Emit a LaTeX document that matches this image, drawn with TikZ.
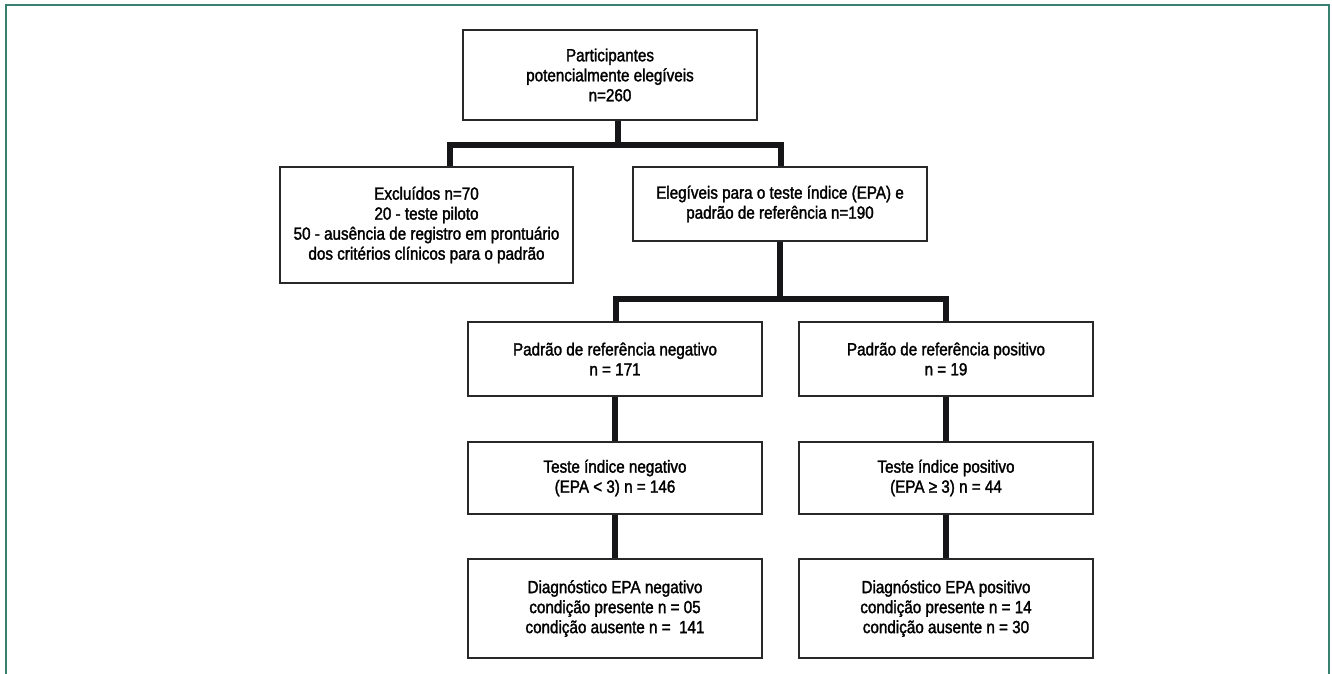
\documentclass[tikz,border=0pt]{standalone}
\usepackage{fontspec}
\setmainfont{Liberation Sans}[FakeStretch=0.865,FakeBold=1.7]
\definecolor{frameteal}{RGB}{56,128,112}
\definecolor{boxline}{RGB}{40,40,40}
\definecolor{connblack}{RGB}{22,22,24}
\begin{document}
\begin{tikzpicture}[x=0.75pt,y=-0.75pt,
  stage/.style={draw=boxline,line width=0.9pt,fill=white,align=center,
    minimum width=294*0.75pt,inner sep=0pt,
    font=\fontsize{13.2pt}{15pt}\selectfont},
  conn/.style={draw=connblack,line width=4.6pt,line join=miter,line cap=butt},
  frameln/.style={draw=frameteal,line width=1.6pt}]
\useasboundingbox (0,0) rectangle (1332,674);
% frame
\draw[frameln] (6,674) -- (6,5) -- (1329,5) -- (1329,674);
% nodes
\node[stage,minimum height=90*0.75pt] (top) at (610,75)
  {Participantes\\potencialmente elegíveis\\n=260};
\node[stage,minimum width=293*0.75pt,minimum height=116*0.75pt] (excl) at (426.5,225)
  {Excluídos n=70\\20 - teste piloto\\50 - ausência de registro em prontuário\\dos critérios clínicos para o padrão};
\node[stage,minimum height=74*0.75pt] (eleg) at (780,204)
  {Elegíveis para o teste índice (EPA) e\\padrão de referência n=190};
\node[stage,minimum height=74*0.75pt] (padneg) at (615,359)
  {Padrão de referência negativo\\n = 171};
\node[stage,minimum height=74*0.75pt] (padpos) at (946,359)
  {Padrão de referência positivo\\n = 19};
\node[stage,minimum height=72*0.75pt] (tesneg) at (615,478)
  {Teste índice negativo\\(EPA < 3) n = 146};
\node[stage,minimum height=72*0.75pt] (tespos) at (946,478)
  {Teste índice positivo\\(EPA ≥ 3) n = 44};
\node[stage,minimum height=99*0.75pt] (diagneg) at (615,608.5)
  {Diagnóstico EPA negativo\\condição presente n = 05\\condição ausente n =~ 141};
\node[stage,minimum height=99*0.75pt] (diagpos) at (946,608.5)
  {Diagnóstico EPA positivo\\condição presente n = 14\\condição ausente n = 30};
% junctions
\coordinate (j1) at (618,145);
\coordinate (j1L) at (450,145);
\coordinate (j1R) at (781,145);
\coordinate (j2) at (780,299);
\coordinate (j2L) at (616,299);
\coordinate (j2R) at (946,299);
% connectors
\draw[conn] (top.south -| j1) -- (j1);
\draw[conn] (excl.north -| j1L) -- (j1L) -- (j1R) -- (eleg.north -| j1R);
\draw[conn] (eleg.south -| j2) -- (j2);
\draw[conn] (padneg.north -| j2L) -- (j2L) -- (j2R) -- (padpos.north -| j2R);
\draw[conn] (padneg.south) -- (tesneg.north);
\draw[conn] (tesneg.south) -- (diagneg.north);
\draw[conn] (padpos.south) -- (tespos.north);
\draw[conn] (tespos.south) -- (diagpos.north);
% redraw box borders over connector ends
\foreach \n in {top,excl,eleg,padneg,padpos,tesneg,tespos,diagneg,diagpos}
  \draw[boxline,line width=0.9pt] (\n.north west) rectangle (\n.south east);
\end{tikzpicture}
\end{document}
